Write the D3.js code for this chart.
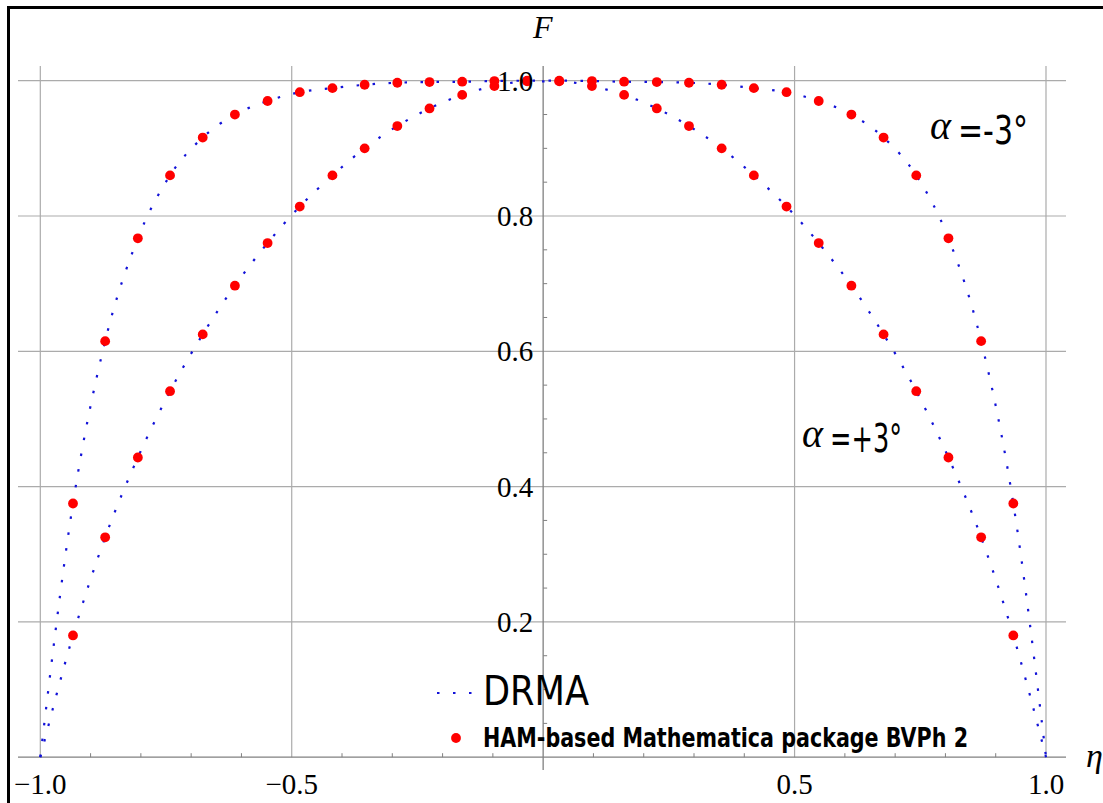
<!DOCTYPE html>
<html>
<head>
<meta charset="utf-8">
<script src="https://cdn.jsdelivr.net/npm/d3@7"></script>
<style>
  html, body { margin: 0; padding: 0; background: #fff; }
  svg { display: block; }
</style>
</head>
<body>
<svg id="chart" width="1103" height="803"></svg>
<script>
// Velocity profile F(eta) across the channel for two half-angles.
// Solution points (HAM / BVPh 2) at eta = -29/31 ... 29/31.
const eta = [
  -0.935, -0.871, -0.806, -0.742, -0.677, -0.613, -0.548, -0.484, -0.419, -0.355,
  -0.290, -0.226, -0.161, -0.097, -0.032,
   0.032,  0.097,  0.161,  0.226,  0.290,  0.355,  0.419,  0.484,  0.548,  0.613,
   0.677,  0.742,  0.806,  0.871,  0.935
];
const fMinus3 = [
  0.375, 0.615, 0.767, 0.860, 0.916, 0.950, 0.970, 0.983, 0.989, 0.994,
  0.997, 0.998, 0.9985, 0.9995, 1.000,
  1.000, 0.9995, 0.9985, 0.998, 0.997, 0.994, 0.989, 0.983, 0.970, 0.950,
  0.916, 0.860, 0.767, 0.615, 0.375
];
const fPlus3 = [
  0.180, 0.325, 0.443, 0.541, 0.625, 0.697, 0.760, 0.814, 0.860, 0.900,
  0.933, 0.959, 0.979, 0.992, 0.999,
  0.999, 0.992, 0.979, 0.959, 0.933, 0.900, 0.860, 0.814, 0.760, 0.697,
  0.625, 0.541, 0.443, 0.325, 0.180
];
// DRMA curves, including the no-slip walls at eta = -1 and eta = 1.
const drmaEta = [-1.0].concat(eta, [1.0]);
const drmaMinus3 = [0.0].concat(fMinus3, [0.0]);
const drmaPlus3 = [0.0].concat(fPlus3, [0.0]);

const xTicks = [-1.0, -0.5, 0.5, 1.0];
const xTickLabels = ["\u22121.0", "\u22120.5", "0.5", "1.0"];
const yTicks = [0.2, 0.4, 0.6, 0.8, 1.0];
const yTickLabels = ["0.2", "0.4", "0.6", "0.8", "1.0"];
const xMinor = [-0.9, -0.8, -0.7, -0.6, -0.4, -0.3, -0.2, -0.1, 0.1, 0.2, 0.3, 0.4, 0.6, 0.7, 0.8, 0.9];
const yMinor = [0.05, 0.1, 0.15, 0.25, 0.3, 0.35, 0.45, 0.5, 0.55, 0.65, 0.7, 0.75, 0.85, 0.9, 0.95];
const curveLabels = [
  { text: "=-3\u00B0", ax: 930, ay: 139, tx: 958, ty: 144, w: 70 },
  { text: "=+3\u00B0", ax: 802, ay: 447, tx: 830, ty: 452, w: 72 }
];
const legendLine = "DRMA";
const legendDots = "HAM-based Mathematica package BVPh 2";

const svg = d3.select("#chart");
const x = d3.scaleLinear().domain([-1, 1]).range([40.3, 1046]);
const y = d3.scaleLinear().domain([0, 1]).range([757.2, 80.7]);
const plotLeft = 18, plotRight = 1066, plotTop = 66;

const serif = "'Liberation Serif', 'Times New Roman', serif";
const gridColor = "#ababab";
const axisColor = "#808080";
const drmaColor = "#1212d8";

// outer frame (left and top edges)
svg.append("rect").attr("x", 7).attr("y", 6).attr("width", 3).attr("height", 803 - 6).attr("fill", "#000");
svg.append("rect").attr("x", 7).attr("y", 6).attr("width", 1103 - 7).attr("height", 3).attr("fill", "#000");

// grid
const grid = svg.append("g");
grid.selectAll("line.h").data(yTicks).join("line")
  .attr("x1", plotLeft).attr("x2", plotRight)
  .attr("y1", d => y(d)).attr("y2", d => y(d))
  .attr("stroke", gridColor).attr("stroke-width", 1.2);
grid.selectAll("line.v").data(xTicks).join("line")
  .attr("x1", d => x(d)).attr("x2", d => x(d))
  .attr("y1", plotTop).attr("y2", y(0))
  .attr("stroke", gridColor).attr("stroke-width", 1.2);

// axes
const axes = svg.append("g");
axes.append("line")
  .attr("x1", plotLeft).attr("x2", plotRight).attr("y1", y(0)).attr("y2", y(0))
  .attr("stroke", axisColor).attr("stroke-width", 1.3);
axes.append("line")
  .attr("x1", x(0)).attr("x2", x(0)).attr("y1", plotTop).attr("y2", 770)
  .attr("stroke", axisColor).attr("stroke-width", 1.3);
axes.selectAll("line.xm").data(xMinor).join("line")
  .attr("x1", d => x(d)).attr("x2", d => x(d))
  .attr("y1", y(0)).attr("y2", y(0) - 4)
  .attr("stroke", axisColor).attr("stroke-width", 1);
axes.selectAll("line.ym").data(yMinor).join("line")
  .attr("x1", x(0)).attr("x2", x(0) + 4)
  .attr("y1", d => y(d)).attr("y2", d => y(d))
  .attr("stroke", axisColor).attr("stroke-width", 1);

// DRMA dotted curves
const line = d3.line().x(d => x(d[0])).y(d => y(d[1])).curve(d3.curveMonotoneX);
[drmaMinus3, drmaPlus3].forEach(vals => {
  svg.append("path")
    .attr("d", line(drmaEta.map((e, i) => [e, vals[i]])))
    .attr("fill", "none")
    .attr("stroke", drmaColor)
    .attr("stroke-width", 2.2)
    .attr("stroke-dasharray", "2.5,13.5");
});

// HAM solution points
[fMinus3, fPlus3].forEach(vals => {
  svg.append("g").selectAll("circle").data(eta.map((e, i) => [e, vals[i]])).join("circle")
    .attr("cx", d => x(d[0])).attr("cy", d => y(d[1]))
    .attr("r", 4.9).attr("fill", "#ff0000");
});

// tick labels
svg.append("g").selectAll("text").data(yTicks).join("text")
  .attr("x", x(0) - 10).attr("y", d => y(d) + 10)
  .attr("text-anchor", "end")
  .attr("font-family", serif).attr("font-size", 29).attr("fill", "#000")
  .text((d, i) => yTickLabels[i]);
svg.append("g").selectAll("text").data(xTicks).join("text")
  .attr("x", d => x(d)).attr("y", 794)
  .attr("text-anchor", "middle")
  .attr("font-family", serif).attr("font-size", 29).attr("fill", "#000")
  .text((d, i) => xTickLabels[i]);

// axis labels
svg.append("text").attr("x", 533).attr("y", 38)
  .attr("font-family", serif).attr("font-style", "italic").attr("font-size", 32)
  .text("F");
svg.append("text").attr("x", 1086).attr("y", 767)
  .attr("font-family", serif).attr("font-style", "italic").attr("font-size", 34)
  .text("\u03B7");

// curve annotations
curveLabels.forEach(c => {
  svg.append("text").attr("x", c.ax).attr("y", c.ay)
    .attr("font-family", serif).attr("font-style", "italic").attr("font-size", 40)
    .text("\u03B1");
  svg.append("text").attr("x", c.tx).attr("y", c.ty)
    .attr("font-family", "'DejaVu Sans', 'Noto Sans', sans-serif").attr("font-size", 39)
    .attr("textLength", c.w).attr("lengthAdjust", "spacingAndGlyphs")
    .text(c.text);
});

// legend
const lg = svg.append("g");
lg.append("line")
  .attr("x1", 437).attr("x2", 476).attr("y1", 693).attr("y2", 693)
  .attr("stroke", drmaColor).attr("stroke-width", 2.2).attr("stroke-dasharray", "2.5,13.5");
lg.append("text").attr("x", 483).attr("y", 705)
  .attr("font-family", "'DejaVu Sans', 'Noto Sans', sans-serif").attr("font-size", 40)
  .attr("textLength", 106).attr("lengthAdjust", "spacingAndGlyphs")
  .text(legendLine);
lg.append("circle").attr("cx", 456).attr("cy", 738).attr("r", 4.9).attr("fill", "#ff0000");
lg.append("text").attr("x", 483).attr("y", 747)
  .attr("font-family", "'Liberation Sans Narrow', 'DejaVu Sans Condensed', 'Liberation Sans', sans-serif")
  .attr("font-weight", "bold").attr("font-size", 26)
  .attr("textLength", 485).attr("lengthAdjust", "spacingAndGlyphs")
  .text(legendDots);
</script>
</body>
</html>
